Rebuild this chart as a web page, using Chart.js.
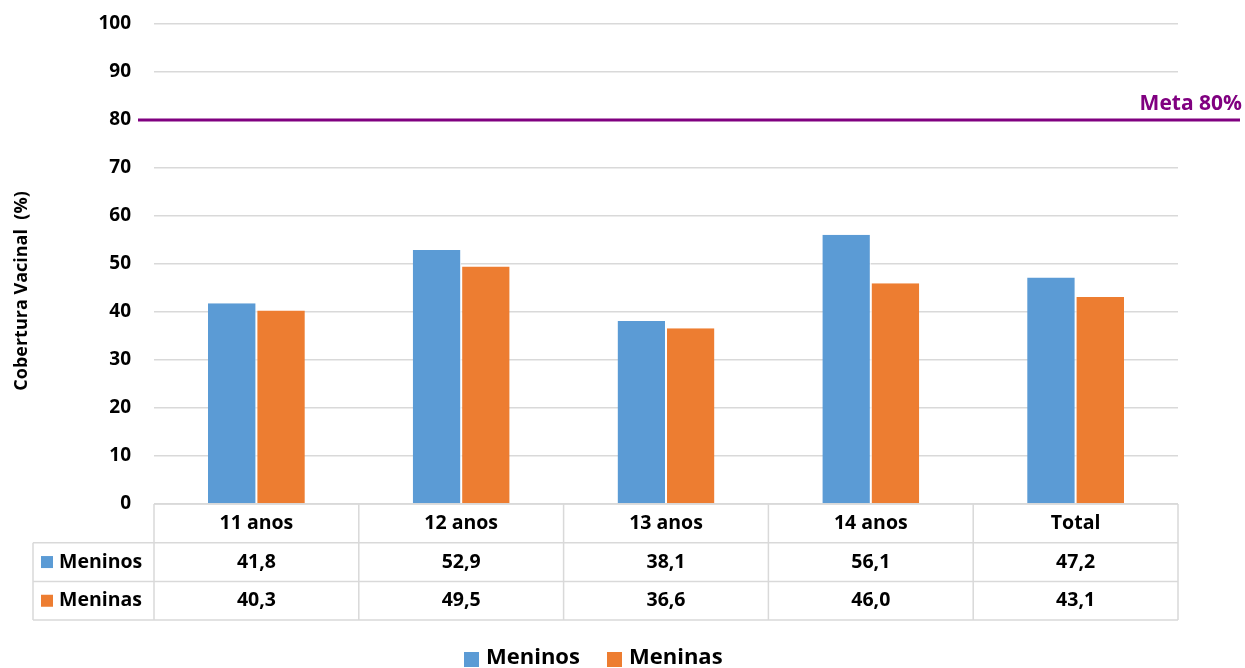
<!DOCTYPE html>
<html>
<head>
<meta charset="utf-8">
<script src="https://cdn.jsdelivr.net/npm/chart.js@4.4.1/dist/chart.umd.min.js"></script>
<style>
  html, body { margin: 0; padding: 0; background: #ffffff; }
  #wrap { width: 1245px; height: 668px; position: relative; }
</style>
</head>
<body>
<div id="wrap"><canvas id="c" width="1245" height="668"></canvas></div>
<script>
// Categories and series values
const categories = ['11 anos', '12 anos', '13 anos', '14 anos', 'Total'];
const meninos = [41.8, 52.9, 38.1, 56.1, 47.2];
const meninas = [40.3, 49.5, 36.6, 46.0, 43.1];
const seriesNames = ['Meninos', 'Meninas'];
const yTicks = [0, 10, 20, 30, 40, 50, 60, 70, 80, 90, 100];
const metaValue = 80;
const metaLabel = 'Meta 80%';
const yTitle = 'Cobertura Vacinal  (%)';

const BLUE = '#5B9BD5';
const ORANGE = '#ED7D31';
const PURPLE = '#800080';
const GRID = '#d9d9d9';
const FONT = '"Open Sans", Lato, sans-serif';

const fmt = v => v.toFixed(1).replace('.', ',');

// Draws the target line, the data table under the x axis, the axis title and the legend
const extras = {
  id: 'extras',
  afterDatasetsDraw(chart) {
    const ctx = chart.ctx;
    const y = chart.scales.y;

    // target line
    const my = y.getPixelForValue(metaValue);
    ctx.save();
    ctx.strokeStyle = PURPLE;
    ctx.lineWidth = 3;
    ctx.beginPath();
    ctx.moveTo(138, my);
    ctx.lineTo(1240, my);
    ctx.stroke();
    ctx.fillStyle = PURPLE;
    ctx.font = 'bold 21px ' + FONT;
    ctx.textAlign = 'right';
    ctx.textBaseline = 'alphabetic';
    ctx.fillText(metaLabel, 1242, my - 10);
    ctx.restore();
  },
  afterDraw(chart) {
    const ctx = chart.ctx;
    const x = chart.scales.x;
    const area = chart.chartArea;
    const n = categories.length;
    const step = (area.right - area.left) / n;
    const rowH = 38.7;
    const top = area.bottom;
    const rows = [top, top + rowH, top + 2 * rowH, top + 3 * rowH];
    const keyLeft = 33;

    ctx.save();
    ctx.strokeStyle = GRID;
    ctx.lineWidth = 1.5;
    // horizontal lines
    ctx.beginPath();
    ctx.moveTo(area.left, rows[0]); ctx.lineTo(area.right, rows[0]);
    for (let r = 1; r < rows.length; r++) {
      ctx.moveTo(keyLeft, rows[r]); ctx.lineTo(area.right, rows[r]);
    }
    // vertical lines
    for (let i = 0; i <= n; i++) {
      const xx = area.left + i * step;
      ctx.moveTo(xx, rows[0]); ctx.lineTo(xx, rows[3]);
    }
    ctx.moveTo(keyLeft, rows[1]); ctx.lineTo(keyLeft, rows[3]);
    ctx.stroke();

    // cell texts
    ctx.fillStyle = '#000';
    ctx.font = 'bold 19.5px ' + FONT;
    ctx.textAlign = 'center';
    ctx.textBaseline = 'middle';
    const series = [meninos, meninas];
    categories.forEach((c, i) => {
      const cx = x.getPixelForValue(i);
      ctx.fillText(c, cx, (rows[0] + rows[1]) / 2);
      series.forEach((s, k) => {
        ctx.fillText(fmt(s[i]), cx, (rows[k + 1] + rows[k + 2]) / 2);
      });
    });

    // row keys
    const colors = [BLUE, ORANGE];
    ctx.textAlign = 'left';
    seriesNames.forEach((name, k) => {
      const cy = (rows[k + 1] + rows[k + 2]) / 2;
      ctx.fillStyle = colors[k];
      ctx.fillRect(41, cy - 6, 12, 12);
      ctx.fillStyle = '#000';
      ctx.fillText(name, 59, cy);
    });

    // y axis title
    ctx.save();
    ctx.translate(22, 291);
    ctx.rotate(-Math.PI / 2);
    ctx.font = 'bold 18px ' + FONT;
    ctx.textAlign = 'center';
    ctx.textBaseline = 'middle';
    ctx.fillText(yTitle, 0, 0);
    ctx.restore();

    // legend
    ctx.font = 'bold 22px ' + FONT;
    ctx.textBaseline = 'middle';
    ctx.textAlign = 'left';
    const ly = 658;
    const lx = [464, 607];
    seriesNames.forEach((name, k) => {
      ctx.fillStyle = colors[k];
      ctx.fillRect(lx[k], ly - 6, 15, 15);
      ctx.fillStyle = '#000';
      ctx.fillText(name, lx[k] + 22, ly);
    });
    ctx.restore();
  }
};

new Chart(document.getElementById('c'), {
  type: 'bar',
  data: {
    labels: categories,
    datasets: [
      { label: seriesNames[0], data: meninos, backgroundColor: BLUE, borderColor: '#ffffff', borderWidth: { right: 1 } },
      { label: seriesNames[1], data: meninas, backgroundColor: ORANGE, borderColor: '#ffffff', borderWidth: { left: 1 } }
    ]
  },
  options: {
    responsive: false,
    animation: false,
    devicePixelRatio: 1,
    layout: { padding: { top: 24, right: 67, left: 0, bottom: 0 } },
    datasets: { bar: { barPercentage: 1, categoryPercentage: 0.473 } },
    plugins: {
      legend: { display: false },
      tooltip: { enabled: false }
    },
    scales: {
      x: {
        grid: { display: false },
        border: { display: false },
        ticks: { display: false },
        afterFit: s => { s.height = 164; }
      },
      y: {
        min: 0,
        max: 100,
        afterBuildTicks: s => { s.ticks = yTicks.map(v => ({ value: v })); },
        afterFit: s => { s.width = 154; s.paddingTop = 0; s.paddingBottom = 0; },
        grid: { color: GRID, lineWidth: 1.5, drawTicks: false },
        border: { display: false },
        ticks: {
          padding: 23,
          color: '#000',
          font: { family: FONT, size: 19, weight: 'bold' }
        }
      }
    }
  },
  plugins: [extras]
});
</script>
</body>
</html>
